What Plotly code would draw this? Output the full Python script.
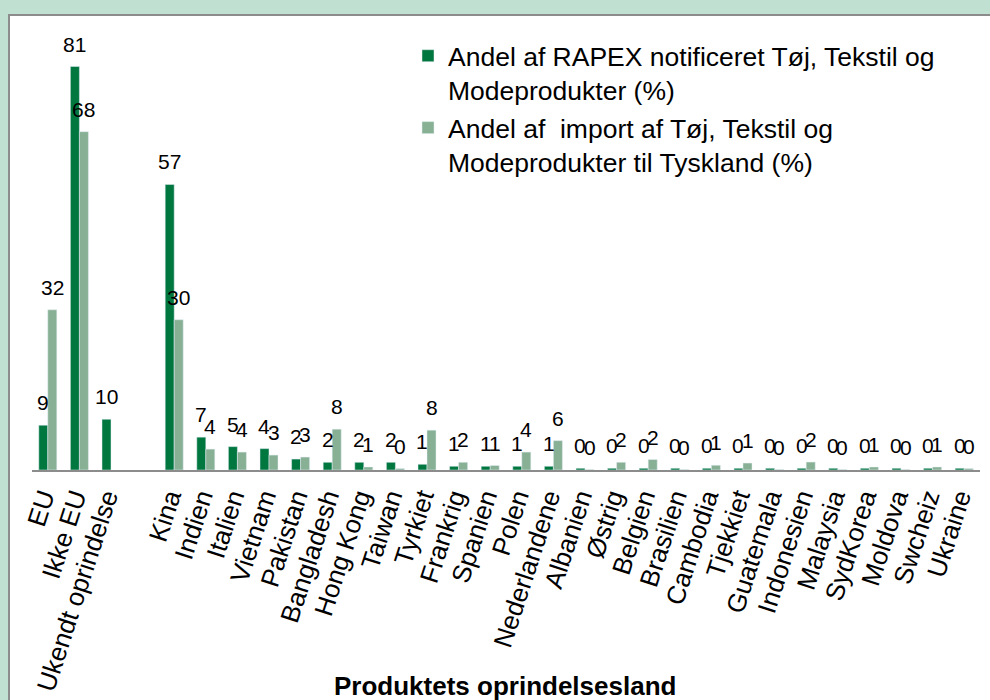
import plotly.graph_objects as go

categories = ["EU", "Ikke EU", "Ukendt oprindelse", " ", "Kina", "Indien", "Italien", "Vietnam",
              "Pakistan", "Bangladesh", "Hong Kong", "Taiwan", "Tyrkiet", "Frankrig", "Spanien",
              "Polen", "Nederlandene", "Albanien", "Østrig", "Belgien", "Brasilien", "Cambodia",
              "Tjekkiet", "Guatemala", "Indonesien", "Malaysia", "SydKorea", "Moldova", "Swcheiz",
              "Ukraine"]

rapex_share = [9.0, 81.1, 10.2, None, 57.4, 6.6, 4.7, 4.3, 2.2, 1.55, 1.55, 1.55, 1.15, 0.75, 0.75,
               0.75, 0.75, 0.35, 0.35, 0.35, 0.35, 0.35, 0.35, 0.35, 0.35, 0.35, 0.35, 0.35, 0.35, 0.35]

import_share = [32.2, 68.0, None, None, 30.2, 4.2, 3.6, 3.0, 2.6, 8.2, 0.6, 0.3, 8.0, 1.55, 0.9,
                3.6, 5.9, 0.1, 1.55, 2.1, 0.1, 0.95, 1.4, 0.1, 1.6, 0.1, 0.6, 0.1, 0.6, 0.3]

name_rapex = "Andel af RAPEX notificeret Tøj, Tekstil og<br>Modeprodukter (%)"
name_import = "Andel af  import af Tøj, Tekstil og<br>Modeprodukter til Tyskland (%)"

FONT = "Liberation Sans, Arial, sans-serif"
DARK = "#00773F"
LIGHT = "#87B094"

# plot area: x 32..980, y 15..470
L, R, T, B = 32, 10, 15, 230
W = 990 - L - R
H = 700 - T - B
BARGAP = 0.43
bar_w = W / len(categories) * (1 - BARGAP) / 2

fig = go.Figure()
fig.add_trace(go.Bar(x=categories, y=rapex_share, name=name_rapex, marker_color=DARK))
fig.add_trace(go.Bar(x=categories, y=import_share, name=name_import, marker_color=LIGHT))

# data labels (rounded values) centred above each bar
annotations = []
for series, side in ((rapex_share, -1), (import_share, 1)):
    for cat, val in zip(categories, series):
        if val is None:
            continue
        annotations.append(dict(x=cat, y=val, xref="x", yref="y", text=f"{round(val):d}",
                                showarrow=False, xanchor="center", yanchor="bottom",
                                xshift=side * bar_w / 2, yshift=9,
                                font=dict(size=21, family=FONT, color="black")))

annotations.append(dict(text="<b>Produktets oprindelsesland</b>", xref="paper", yref="paper",
                        x=(505 - L) / W, y=(470 - 686) / H, xanchor="center", yanchor="middle",
                        showarrow=False, font=dict(size=26, family=FONT, color="black")))

fig.update_layout(
    width=990, height=700,
    margin=dict(l=L, r=R, t=T, b=B, pad=0, autoexpand=False),
    paper_bgcolor="#C0E1D2",
    plot_bgcolor="rgba(0,0,0,0)",
    barmode="group", bargap=BARGAP, bargroupgap=0,
    font=dict(family=FONT, color="black"),
    showlegend=True,
    legend=dict(x=(408 - L) / W, y=(470 - 32) / H, xanchor="left", yanchor="top",
                font=dict(size=26.5, family=FONT), valign="top", tracegroupgap=0,
                bgcolor="rgba(0,0,0,0)", itemclick=False),
    xaxis=dict(type="category", showline=True, linecolor="#8C8C8C", linewidth=1.5,
               tickmode="array", tickvals=categories, ticktext=categories,
               ticks="", tickangle=-72, tickfont=dict(size=26, family=FONT),
               ticklabelshift=-5,
               showgrid=False, zeroline=False, automargin=False),
    yaxis=dict(range=[0, H / 4.975], visible=False, showgrid=False, zeroline=False,
               automargin=False),
    shapes=[dict(type="rect", xref="paper", yref="paper",
                 x0=(9 - L) / W, x1=(995 - L) / W, y0=(470 - 705) / H, y1=(470 - 15) / H,
                 fillcolor="white", line=dict(color="#8C8C8C", width=2), layer="below")],
    annotations=annotations,
)

fig.write_html("out.html", config={"displayModeBar": False},
               post_script="document.body.style.margin='0';document.body.style.overflow='hidden';")
